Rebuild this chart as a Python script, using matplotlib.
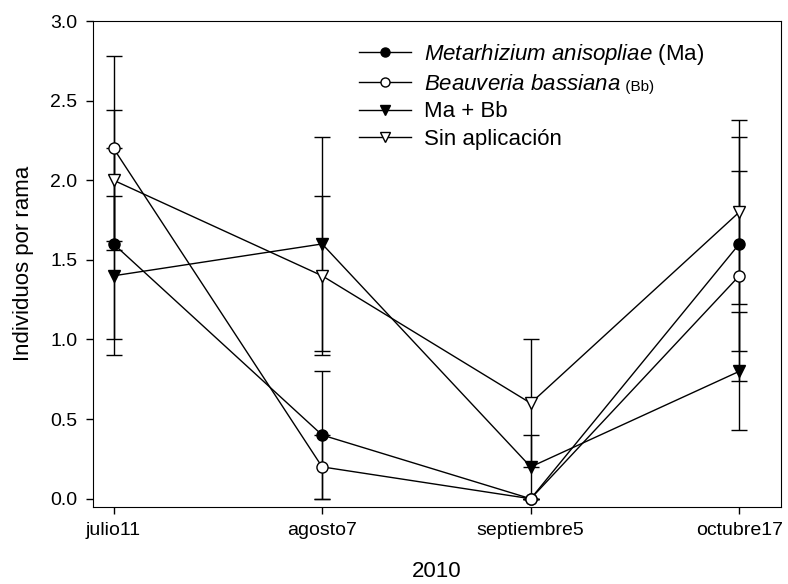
import matplotlib
matplotlib.use("Agg")
import matplotlib.pyplot as plt
from matplotlib.lines import Line2D
import numpy as np

plt.rcParams['font.family'] = ['Liberation Sans', 'DejaVu Sans']
plt.rcParams['mathtext.fontset'] = 'custom'
plt.rcParams['mathtext.it'] = 'Liberation Sans:italic'
plt.rcParams['mathtext.rm'] = 'Liberation Sans'

# fechas de muestreo
fechas = ['julio11', 'agosto7', 'septiembre5', 'octubre17']

# medias y errores por tratamiento
ma = [1.6, 0.4, 0.0, 1.6]
ma_err = [0.6, 0.4, 0.0, 0.67]
bb = [2.2, 0.2, 0.0, 1.4]
bb_err = [0.58, 0.2, 0.0, 0.66]
mabb = [1.4, 1.6, 0.2, 0.8]
mabb_err = [0.5, 0.67, 0.2, 0.37]
sin = [2.0, 1.4, 0.6, 1.8]
sin_err = [0.44, 0.5, 0.4, 0.58]

x = np.arange(len(fechas))

fig = plt.figure(figsize=(7.88, 5.84), dpi=100)
ax = fig.add_axes([92.7 / 788, 1 - 506.7 / 584, (781 - 92.7) / 788, (506.7 - 21) / 584])

common = dict(color='black', lw=1, elinewidth=1, capsize=5.6, capthick=1,
              markersize=8, markeredgecolor='black', markeredgewidth=1)

ax.errorbar(x, ma, yerr=ma_err, fmt='-o', mfc='black', **common)
ax.errorbar(x, bb, yerr=bb_err, fmt='-o', mfc='white', **common)
ax.errorbar(x, mabb, yerr=mabb_err, fmt='-v', mfc='black', **common)
ax.errorbar(x, sin, yerr=sin_err, fmt='-v', mfc='white', **common)

ax.set_xlim(-0.1, 3.2)
ax.set_ylim(-0.05, 3.0)
yt = np.arange(0, 3.01, 0.5)
ax.set_yticks(yt)
ax.set_yticklabels([f'{v:.1f}' for v in yt])
ax.set_xticks(x)
ax.set_xticklabels(fechas)
ax.tick_params(direction='out', length=5, width=1, labelsize=14, pad=6)

ax.set_xlabel('2010', fontsize=16, labelpad=16)
ax.set_ylabel('Individuos por rama', fontsize=16, labelpad=12)

# leyenda sin barras de error
handles = [
    Line2D([], [], color='black', lw=1, marker='o', ms=6.5, mfc='black', mec='black'),
    Line2D([], [], color='black', lw=1, marker='o', ms=6.5, mfc='white', mec='black'),
    Line2D([], [], color='black', lw=1, marker='v', ms=6.5, mfc='black', mec='black'),
    Line2D([], [], color='black', lw=1, marker='v', ms=6.5, mfc='white', mec='black'),
]
labels = [r'$\mathit{Metarhizium\ anisopliae}$ (Ma)',
          r'$\mathit{Beauveria\ bassiana}$',
          'Ma + Bb', 'Sin aplicación']
leg = ax.legend(handles, labels, loc='upper left',
                bbox_to_anchor=(359 / 788, 1 - 42 / 584),
                bbox_transform=fig.transFigure, frameon=False, fontsize=16,
                handlelength=2.34, handletextpad=0.6, labelspacing=0.3,
                borderpad=0, borderaxespad=0)

# "(Bb)" mas pequeño al lado del nombre
fig.canvas.draw()
bx = leg.get_texts()[1].get_window_extent()
fig.text(bx.x1 / 788, (bx.y0 + 4) / 584, ' (Bb)', fontsize=11, va='baseline', ha='left')

fig.savefig('out.png', dpi=100)
